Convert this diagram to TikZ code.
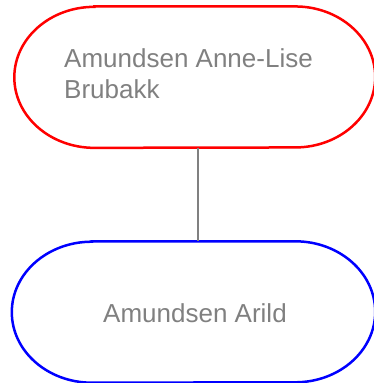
\documentclass[tikz,border=0pt]{standalone}
\usepackage{fontspec}
\setmainfont{Liberation Sans}
\usetikzlibrary{positioning}

\tikzset{
  pill/.style={minimum height=141pt, inner sep=0pt},
  navn/.style={text=gray, inner sep=0pt, font=\fontsize{26}{31}\selectfont},
}
% border of a pill node: name, colour
\newcommand{\pillkant}[2]{
  \draw[#2, line width=2.5pt]
    ([xshift=80pt]#1.north west) -- ([xshift=-80pt]#1.north east)
    arc (90:-90:80pt and 70.5pt) -- ([xshift=80pt]#1.south west)
    arc (270:90:80pt and 70.5pt) -- cycle;
}

\begin{document}
\begin{tikzpicture}[x=1pt, y=1pt]
      \useasboundingbox (0,0) rectangle (374,383);
      \node[pill, minimum width=360.5pt] (anne)  at (194.75,305.85) {};
      \node[pill, minimum width=363pt]   (arild) at (193.5,71) {};
      \pillkant{anne}{red}
      \pillkant{arild}{blue}
      \node[navn, anchor=north west, align=left] (anneTekst) at (64,335)
            {Amundsen Anne-Lise\\Brubakk};
      \node[navn, anchor=base]           (arildTekst) at (195,60) {Amundsen Arild};
      \draw[gray, line width=2pt] ([xshift=3.5pt]anne.south)
            -- ([xshift=3.5pt]anne.south |- arild.north);
    \end{tikzpicture}
\end{document}
